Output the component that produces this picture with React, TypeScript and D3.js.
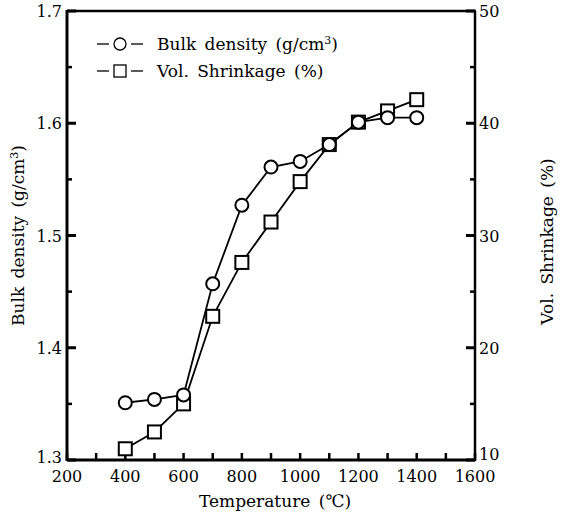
import * as d3 from "d3";
import React from "react";

const temps = [400, 500, 600, 700, 800, 900, 1000, 1100, 1200, 1300, 1400];
const bulkDensity = [1.351, 1.354, 1.358, 1.457, 1.527, 1.561, 1.566, 1.581, 1.601, 1.605, 1.605];
const shrinkage = [11.0, 12.5, 15.0, 22.8, 27.6, 31.2, 34.8, 38.1, 40.1, 41.1, 42.1];

const xTicks = [200, 400, 600, 800, 1000, 1200, 1400, 1600];
const leftTicks = [1.3, 1.4, 1.5, 1.6, 1.7];
const rightTicks = [10, 20, 30, 40, 50];

const W = 562;
const H = 520;
const left = 67;
const right = 475;
const top = 11;
const bottom = 460;
const font = "'DejaVu Serif', 'Liberation Serif', serif";

const App = () => {
  const x = d3.scaleLinear().domain([200, 1600]).range([left, right]);
  const yL = d3.scaleLinear().domain([1.3, 1.7]).range([bottom, top]);
  const yR = d3.scaleLinear().domain([10, 50]).range([bottom, top]);

  const line = d3.line<[number, number]>().x((d) => d[0]).y((d) => d[1]);
  const bulkPts: [number, number][] = temps.map((t, i) => [x(t), yL(bulkDensity[i])]);
  const shrPts: [number, number][] = temps.map((t, i) => [x(t), yR(shrinkage[i])]);

  const minorX = d3.range(200, 1601, 100);
  const minorL = d3.range(1.35, 1.7, 0.1);
  const minorR = d3.range(15, 50, 10);

  return (
    <svg width={W} height={H} style={{ position: "absolute", left: 0, top: 0 }}>
      <rect width={W} height={H} fill="#fff" />
      <g stroke="#000" fill="none">
        {/* frame */}
        <line x1={left} x2={left} y1={top - 1} y2={bottom + 1} strokeWidth={3} />
        <line x1={left} x2={right} y1={bottom} y2={bottom} strokeWidth={3} />
        <line x1={right} x2={right} y1={top} y2={bottom + 1} strokeWidth={2.5} />
        <line x1={left} x2={right + 1} y1={top} y2={top} strokeWidth={2.5} />
        {/* bottom ticks */}
        {minorX.map((t) => (
          <line key={"bx" + t} x1={x(t)} x2={x(t)} y1={bottom} y2={bottom - 7} strokeWidth={2.5} />
        ))}
        {/* left ticks */}
        {leftTicks.map((t) => (
          <line key={"lt" + t} x1={left} x2={left + 9} y1={yL(t)} y2={yL(t)} strokeWidth={3} />
        ))}
        {minorL.map((t) => (
          <line key={"lm" + t} x1={left} x2={left + 5} y1={yL(t)} y2={yL(t)} strokeWidth={2.5} />
        ))}
        {/* right ticks */}
        {rightTicks.map((t) => (
          <line key={"rt" + t} x1={right} x2={right - 9} y1={yR(t)} y2={yR(t)} strokeWidth={3} />
        ))}
        {minorR.map((t) => (
          <line key={"rm" + t} x1={right} x2={right - 5} y1={yR(t)} y2={yR(t)} strokeWidth={2.5} />
        ))}
      </g>

      <g fontFamily={font} fontSize={16} fill="#000">
        {xTicks.map((t) => (
          <text key={"xl" + t} x={x(t)} y={bottom + 22} textAnchor="middle">{t}</text>
        ))}
        {leftTicks.map((t) => (
          <text key={"ll" + t} x={left - 5} y={yL(t) + (t === 1.3 ? 3 : 6)} textAnchor="end">{t.toFixed(1)}</text>
        ))}
        {rightTicks.map((t) => (
          <text key={"rl" + t} x={right + 4} y={yR(t) + (t === 10 ? 0 : 6)} textAnchor="start">{t}</text>
        ))}
      </g>
      <g fontFamily={font} fontSize={17} fill="#000" wordSpacing={3}>
        <text x={(left + right) / 2 + 4} y={bottom + 47} textAnchor="middle">Temperature (℃)</text>
        <text transform={`translate(24, ${(top + bottom) / 2}) rotate(-90)`} textAnchor="middle">
          Bulk density (g/cm<tspan fontSize={11} dy={-6}>3</tspan><tspan dy={6}>)</tspan>
        </text>
        <text transform={`translate(553, ${(top + bottom) / 2 + 6}) rotate(-90)`} textAnchor="middle">
          Vol. Shrinkage (%)
        </text>
      </g>

      {/* series */}
      <g fill="none" stroke="#000" strokeWidth={1.8}>
        <path d={line(shrPts) ?? ""} />
        <path d={line(bulkPts) ?? ""} />
      </g>
      <g fill="#fff" stroke="#000" strokeWidth={2}>
        {shrPts.map((p, i) => (
          <rect key={"s" + i} x={p[0] - 6.5} y={p[1] - 6.5} width={13} height={13} />
        ))}
        {bulkPts.map((p, i) => (
          <circle key={"c" + i} cx={p[0]} cy={p[1]} r={6.5} />
        ))}
      </g>

      {/* legend */}
      <g stroke="#000" strokeWidth={1.3} fill="#fff">
        <line x1={97} x2={109} y1={44} y2={44} />
        <line x1={131} x2={143} y1={44} y2={44} />
        <circle cx={120} cy={44} r={6} />
        <line x1={97} x2={109} y1={71} y2={71} />
        <line x1={131} x2={143} y1={71} y2={71} />
        <rect x={114} y={65} width={12} height={12} />
      </g>
      <g fontFamily={font} fontSize={17} fill="#000" wordSpacing={3}>
        <text x={157} y={50}>
          Bulk density (g/cm<tspan fontSize={11} dy={-6}>3</tspan><tspan dy={6}>)</tspan>
        </text>
        <text x={157} y={77}>Vol. Shrinkage (%)</text>
      </g>
    </svg>
  );
};

export default App;
